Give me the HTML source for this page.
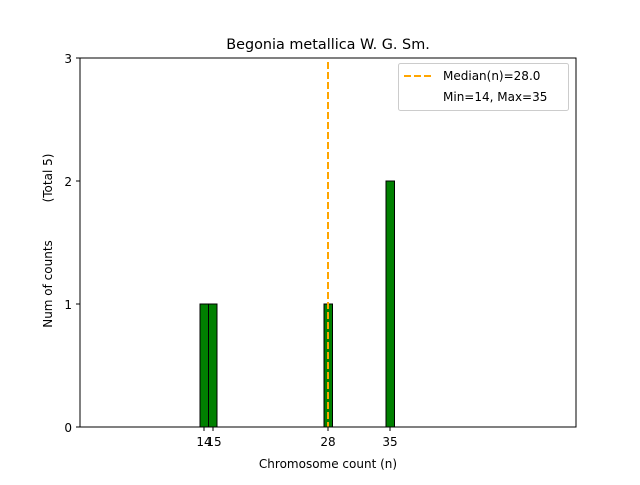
<!DOCTYPE html>
<html><head><style>body{margin:0;background:#fff}</style></head><body>
<svg width="640" height="480" xmlns="http://www.w3.org/2000/svg" font-family="DejaVu Sans, Liberation Sans, sans-serif">
<rect width="640" height="480" fill="#fff"/>
<text x="328" y="49" font-size="14.4" text-anchor="middle">Begonia metallica W. G. Sm.</text>
<line x1="200" y1="427" x2="421" y2="427" stroke="#000" stroke-width="1"/>
<g fill="#008000" stroke="#000" stroke-width="1">
<rect x="200" y="304" width="8.5" height="123"/>
<rect x="208.5" y="304" width="8.5" height="123"/>
<rect x="324" y="304" width="8.5" height="123"/>
<rect x="386" y="181" width="8.5" height="246"/>
</g>
<line x1="328" y1="62" x2="328" y2="427" stroke="#FFA500" stroke-width="2" stroke-dasharray="7,3"/>
<rect x="80" y="58" width="496" height="369" fill="none" stroke="#000" stroke-width="1"/>
<g stroke="#000">
<line x1="80" y1="427" x2="76" y2="427"/><line x1="80" y1="304" x2="76" y2="304"/>
<line x1="80" y1="181" x2="76" y2="181"/><line x1="80" y1="58" x2="76" y2="58"/>
<line x1="204" y1="427" x2="204" y2="431"/><line x1="213" y1="427" x2="213" y2="431"/>
<line x1="328" y1="427" x2="328" y2="431"/><line x1="390" y1="427" x2="390" y2="431"/>
</g>
<g font-size="12" text-anchor="end">
<text x="72" y="432">0</text><text x="72" y="309">1</text><text x="72" y="186">2</text><text x="72" y="63">3</text>
</g>
<g font-size="12" text-anchor="middle">
<text x="204" y="446">14</text><text x="214" y="446">15</text><text x="328" y="446">28</text><text x="390" y="446">35</text>
<text x="328" y="468">Chromosome count (n)</text>
</g>
<text transform="translate(52,284) rotate(-90)" font-size="12" text-anchor="middle">Num of counts</text>
<text transform="translate(52,178) rotate(-90)" font-size="12" text-anchor="middle">(Total 5)</text>
<rect x="398.5" y="63.5" width="170" height="47" rx="2" fill="#fff" stroke="#ccc"/>
<line x1="404" y1="76" x2="432" y2="76" stroke="#FFA500" stroke-width="2" stroke-dasharray="7,3"/>
<text x="443" y="80" font-size="12">Median(n)=28.0</text>
<text x="443" y="101" font-size="12">Min=14, Max=35</text>
</svg>
</body></html>
